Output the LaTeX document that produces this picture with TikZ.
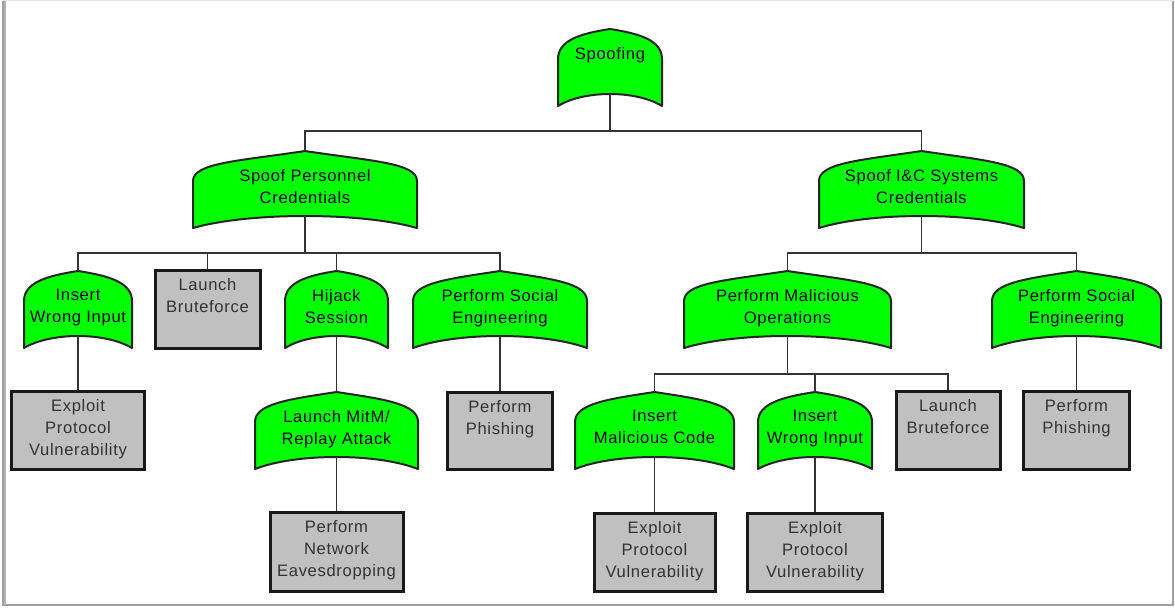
\documentclass[tikz,border=0pt]{standalone}
\usepackage{fontspec}
\setmainfont[LetterSpace=4]{Liberation Sans}
\usetikzlibrary{positioning}

\definecolor{evgreen}{RGB}{0,255,0}
\definecolor{leafgray}{RGB}{192,192,192}

\tikzset{
  evt/.style={draw=black!85, line width=1pt, fill=evgreen, line join=round},
  evtxt/.style={anchor=north, inner sep=0pt, align=center, font=\fontsize{8.3}{11}\selectfont},
  leaf/.style={draw=black!90, line width=1.5pt, fill=leafgray, inner sep=0pt, anchor=north},
  leaftxt/.style={anchor=north, inner sep=0pt, align=center, yshift=-4.5pt, text=black!80, font=\fontsize{8.3}{11}\selectfont},
  link/.style={draw=black!80, line width=0.9pt},
}

% green event: name, left x, right x, top y, text
\newcommand{\evnode}[5]{%
  \draw[evt] (#2,{#4+77}) -- (#2,{#4+30})
    .. controls (#2,{#4+12}) and ({(#2+#3)/2-0.3*(#3-#2)},{#4+0.045*(#3-#2)}) .. ({(#2+#3)/2},#4) coordinate (#1-t)
    .. controls ({(#2+#3)/2+0.3*(#3-#2)},{#4+0.045*(#3-#2)}) and (#3,{#4+12}) .. (#3,{#4+30})
    -- (#3,{#4+77})
    .. controls ({#3-0.25*(#3-#2)},{#4+61}) and ({#2+0.25*(#3-#2)},{#4+61}) .. cycle;
  \coordinate (#1-b) at ({(#2+#3)/2},{#4+65});
  \node[evtxt] (#1) at ({(#2+#3)/2},{#4+18}) {#5};
}

\begin{document}
\begin{tikzpicture}[x=0.5pt, y=-0.5pt]
\useasboundingbox (0,0) rectangle (1175,607);
% frame
\draw[gray!20, line width=0.8pt] (3,0.5) -- (1173,0.5);
\draw[gray!75, line width=1pt] (3,0.5) -- (3,605) -- (1173,605) -- (1173,0.5);
\draw[gray!60, line width=1.2pt] (5,0.5) -- (5,605);

% root
\evnode{spf}{558}{662}{29}{Spoofing}
% level 1
\evnode{spc}{193}{417}{151}{Spoof Personnel\\Credentials}
\evnode{sic}{819}{1024}{151}{Spoof I\&C Systems\\Credentials}
% level 2 left
\evnode{iwi1}{24}{132}{271}{Insert\\Wrong Input}
\node[leaf, minimum width=52.5pt, minimum height=39pt] (lbf1) at (207.5,269) {};
\node[leaftxt] at (lbf1.north) {Launch\\Bruteforce};
\evnode{hjs}{285}{388}{271}{Hijack\\Session}
\evnode{pse1}{413}{587}{271}{Perform Social\\Engineering}
% level 2 right
\evnode{pmo}{684}{891}{271}{Perform Malicious\\Operations}
\evnode{pse2}{992}{1161}{271}{Perform Social\\Engineering}
% level 3
\node[leaf, minimum width=66.5pt, minimum height=39pt] (epv1) at (78,390) {};
\node[leaftxt] at (epv1.north) {Exploit\\Protocol\\Vulnerability};
\evnode{mtm}{255}{418}{392}{Launch MitM/\\Replay Attack}
\node[leaf, minimum width=52.5pt, minimum height=38.5pt] (php1) at (500,391) {};
\node[leaftxt] at (php1.north) {Perform\\Phishing};
\evnode{imc}{575}{734}{392}{Insert\\Malicious Code}
\evnode{iwi2}{758}{872}{392}{Insert\\Wrong Input}
\node[leaf, minimum width=52pt, minimum height=39pt] (lbf2) at (948,390) {};
\node[leaftxt] at (lbf2.north) {Launch\\Bruteforce};
\node[leaf, minimum width=53pt, minimum height=39pt] (php2) at (1076.5,390) {};
\node[leaftxt] at (php2.north) {Perform\\Phishing};
% level 4
\node[leaf, minimum width=66.5pt, minimum height=39.5pt] (pne) at (336.5,511) {};
\node[leaftxt] at (pne.north) {Perform\\Network\\Eavesdropping};
\node[leaf, minimum width=60.5pt, minimum height=39pt] (epv2) at (654.5,512) {};
\node[leaftxt] at (epv2.north) {Exploit\\Protocol\\Vulnerability};
\node[leaf, minimum width=67.5pt, minimum height=39pt] (epv3) at (815,512) {};
\node[leaftxt] at (epv3.north) {Exploit\\Protocol\\Vulnerability};

% connectors
\draw[link] (spf-b) -- ++(0,37) coordinate (b0);
\draw[link] (spc-t) |- (b0) -| (sic-t);
\draw[link] (spc-b) -- ++(0,37) coordinate (b1);
\draw[link] (iwi1-t) |- (b1) -| (pse1-t);
\draw[link] (lbf1.north) -- (lbf1.north |- b1);
\draw[link] (hjs-t) -- (hjs-t |- b1);
\draw[link] (sic-b) -- ++(0,37) coordinate (b2);
\draw[link] (pmo-t) |- (b2) -| (pse2-t);
\draw[link] (iwi1-b) -- (epv1.north);
\draw[link] (hjs-b) -- (mtm-t);
\draw[link] (pse1-b) -- (php1.north);
\draw[link] (mtm-b) -- (pne.north);
\draw[link] (pmo-b) -- ++(0,38) coordinate (b3);
\draw[link] (imc-t) |- (b3) -| (lbf2.north);
\draw[link] (iwi2-t) -- (iwi2-t |- b3);
\draw[link] (pse2-b) -- (php2.north);
\draw[link] (imc-b) -- (epv2.north);
\draw[link] (iwi2-b) -- (epv3.north);
\end{tikzpicture}
\end{document}
